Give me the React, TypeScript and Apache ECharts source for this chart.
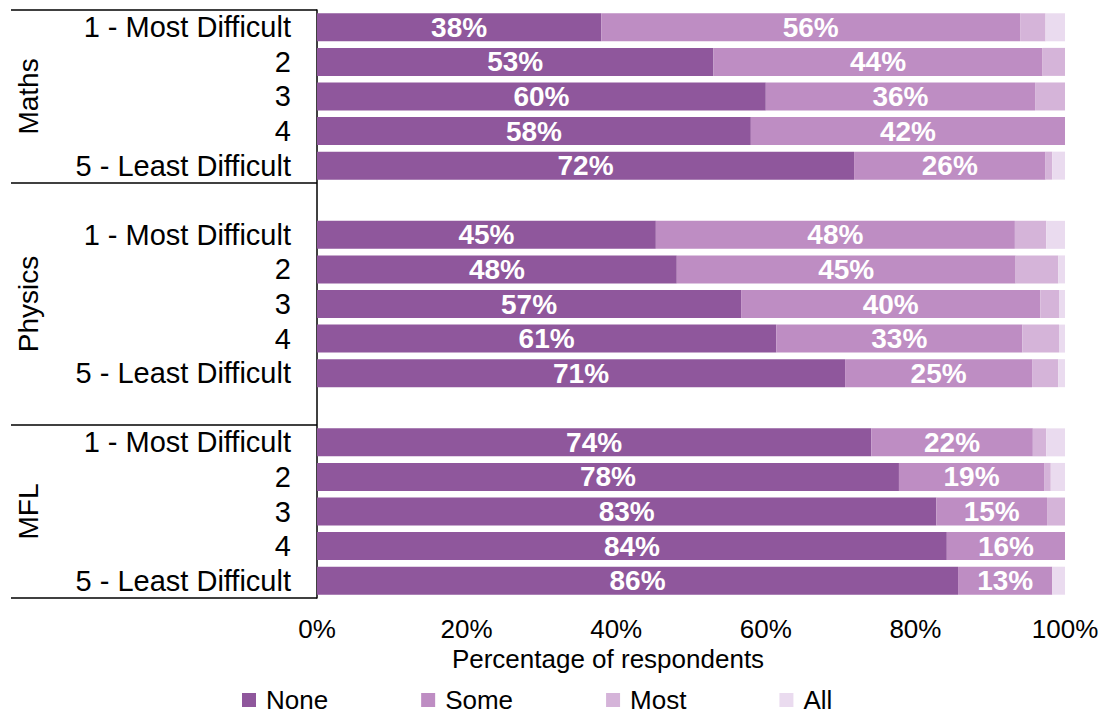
import React, { useEffect, useRef } from "react";
import * as echarts from "echarts";

const GROUPS = ["Maths", "Physics", "MFL"];
const LEVELS = ["1 - Most Difficult", "2", "3", "4", "5 - Least Difficult"];
const SERIES_NAMES = ["None", "Some", "Most", "All"];
const COLORS = ["#8F579C", "#BE8DC3", "#D5B4D9", "#EADBEF"];
const X_TICKS = [0, 20, 40, 60, 80, 100];
const X_TITLE = "Percentage of respondents";

// values per row: Maths 1..5, Physics 1..5, MFL 1..5
const NONE_PCT = [38, 53, 60, 58, 71.8, 45.3, 48.1, 56.7, 61.4, 70.6, 74.1, 77.8, 82.8, 84.2, 85.7];
const SOME_PCT = [56, 44, 36, 42, 25.6, 48, 45.3, 40, 32.9, 25, 21.6, 19.4, 14.8, 15.8, 12.6];
const MOST_PCT = [3.4, 3, 4, 0, 0.9, 4.2, 5.7, 2.5, 4.9, 3.5, 1.8, 0.9, 2.4, 0, 0];
const ALL_PCT = [2.6, 0, 0, 0, 1.7, 2.5, 0.9, 0.8, 0.8, 0.9, 2.5, 1.9, 0, 0, 1.7];

const FONT = "'Liberation Sans', Arial, sans-serif";

export default function App() {
  const ref = useRef<HTMLDivElement>(null);

  useEffect(() => {
    if (!ref.current) return;
    const chart = echarts.init(ref.current, null, { renderer: "svg" });

    const GRID_LEFT = 317;
    const GRID_TOP = 10;
    const GRID_W = 748;
    const GRID_H = 588;

    // Build 17 slots: 5 rows, gap, 5 rows, gap, 5 rows
    const cats: string[] = [];
    const rowIndex: (number | null)[] = [];
    GROUPS.forEach((g, gi) => {
      LEVELS.forEach((l, li) => {
        cats.push(g + "|" + l);
        rowIndex.push(gi * LEVELS.length + li);
      });
      if (gi < GROUPS.length - 1) {
        cats.push("gap" + gi);
        rowIndex.push(null);
      }
    });
    const nSlots = cats.length;
    const slot = GRID_H / nSlots;

    const allData = [NONE_PCT, SOME_PCT, MOST_PCT, ALL_PCT];
    const series = SERIES_NAMES.map((name, si) => ({
      name,
      type: "bar",
      stack: "total",
      barWidth: 28,
      itemStyle: { color: COLORS[si] },
      data: rowIndex.map((r) => (r === null ? null : allData[si][r])),
      label:
        si < 2
          ? {
              show: true,
              position: "inside",
              color: "#fff",
              fontWeight: "bold",
              fontSize: 28,
              fontFamily: FONT,
              formatter: (p: any) => Math.round(p.value) + "%",
            }
          : { show: false },
    }));

    // group separator lines (positions derived from slot layout)
    const groupBoundaries = [0, 5, 12, 17];
    const graphics: any[] = [];
    groupBoundaries.forEach((s) => {
      const y = GRID_TOP + s * slot;
      graphics.push({
        type: "line",
        shape: { x1: 11, y1: y, x2: GRID_LEFT, y2: y },
        style: { stroke: "#000", lineWidth: 1.5 },
      });
    });
    GROUPS.forEach((g, gi) => {
      const firstSlot = gi * (LEVELS.length + 1);
      const cy = GRID_TOP + (firstSlot + LEVELS.length / 2) * slot;
      graphics.push({
        type: "text",
        x: 28,
        y: cy,
        rotation: Math.PI / 2,
        style: {
          text: g,
          fontSize: 28,
          fontFamily: FONT,
          fill: "#000",
          align: "center",
          verticalAlign: "middle",
        },
      });
    });
    graphics.push({
      type: "text",
      x: 608,
      y: 659,
      style: {
        text: X_TITLE,
        fontSize: 26,
        fontFamily: FONT,
        fill: "#000",
        align: "center",
        verticalAlign: "middle",
      },
    });

    chart.setOption({
      animation: false,
      backgroundColor: "#fff",
      grid: { left: GRID_LEFT, top: GRID_TOP, width: GRID_W, height: GRID_H },
      xAxis: {
        type: "value",
        min: X_TICKS[0],
        max: X_TICKS[X_TICKS.length - 1],
        interval: X_TICKS[1] - X_TICKS[0],
        axisLine: { show: false },
        axisTick: { show: false },
        splitLine: { show: false },
        axisLabel: {
          formatter: "{value}%",
          fontSize: 26,
          fontFamily: FONT,
          color: "#000",
          margin: 18,
        },
      },
      yAxis: {
        type: "category",
        inverse: true,
        data: cats,
        axisLine: { show: true, lineStyle: { color: "#000", width: 1.5 } },
        axisTick: { show: false },
        splitLine: { show: false },
        axisLabel: {
          fontSize: 29,
          fontFamily: FONT,
          color: "#000",
          margin: 26,
          interval: 0,
          formatter: (v: string) => (v.indexOf("|") >= 0 ? v.split("|")[1] : ""),
        },
      },
      legend: {
        left: 242,
        top: 687,
        padding: 0,
        icon: "rect",
        itemWidth: 14,
        itemHeight: 14,
        itemGap: 93,
        data: SERIES_NAMES,
        textStyle: {
          fontSize: 26,
          lineHeight: 26,
          fontFamily: FONT,
          color: "#000",
          padding: [0, 0, 0, 5],
        },
      },
      graphic: graphics,
      series,
    });

    return () => chart.dispose();
  }, []);

  return (
    <div
      ref={ref}
      style={{ position: "absolute", left: 0, top: 0, width: 1114, height: 715, background: "#fff" }}
    />
  );
}
